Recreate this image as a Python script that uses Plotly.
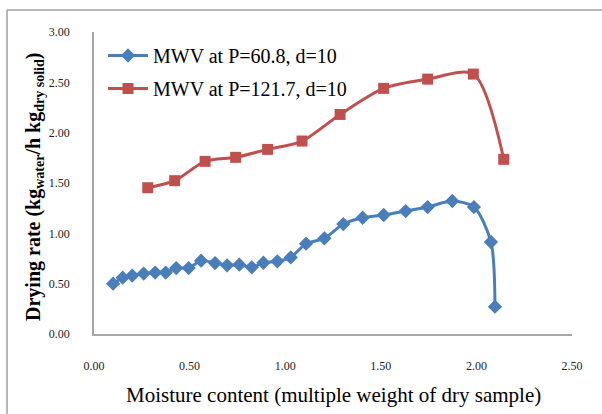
import plotly.graph_objects as go

# Data
blue_name = "MWV at P=60.8, d=10"
blue_x = [0.10, 0.15, 0.20, 0.26, 0.32, 0.375, 0.43, 0.495, 0.56, 0.633, 0.696, 0.76,
          0.825, 0.886, 0.959, 1.029, 1.109, 1.205, 1.304, 1.405, 1.515, 1.63, 1.745,
          1.874, 1.987, 2.076, 2.097]
blue_y = [0.50, 0.56, 0.58, 0.60, 0.61, 0.61, 0.655, 0.655, 0.728, 0.705, 0.682, 0.689,
          0.662, 0.708, 0.722, 0.761, 0.897, 0.95, 1.092, 1.155, 1.182, 1.221, 1.261,
          1.321, 1.261, 0.914, 0.271]

red_name = "MWV at P=121.7, d=10"
red_x = [0.281, 0.422, 0.581, 0.741, 0.908, 1.088, 1.287, 1.515, 1.745, 1.984, 2.143]
red_y = [1.453, 1.523, 1.715, 1.755, 1.834, 1.917, 2.181, 2.44, 2.532, 2.582, 1.735]

x_ticks = [0, 0.5, 1.0, 1.5, 2.0, 2.5]
y_ticks = [0, 0.5, 1.0, 1.5, 2.0, 2.5, 3.0]

x_title = "Moisture content (multiple weight of dry sample)"
y_title = "<b>Drying rate (kg<sub>water</sub>/h kg<sub>dry solid</sub>)</b>"

FONT = "Liberation Serif, Times New Roman, serif"

fig = go.Figure()
fig.add_trace(go.Scatter(
    x=blue_x, y=blue_y, name=blue_name, mode="lines+markers",
    line=dict(color="#4a7ebb", width=3, shape="spline", smoothing=0.8),
    marker=dict(symbol="diamond", size=11, color="#4a7ebb"),
    legendgroup="a",
))
fig.add_trace(go.Scatter(
    x=red_x, y=red_y, name=red_name, mode="lines+markers",
    line=dict(color="#c0504d", width=3, shape="spline", smoothing=0.8),
    marker=dict(symbol="square", size=11, color="#c0504d"),
    legendgroup="b",
))

L, R, T, B = 94, 30, 32, 80
W, H = 602, 414
pw, ph = W - L - R, H - T - B


def px_to_paper_x(px):
    return (px - L) / pw


def px_to_paper_y(py):
    return (H - B - py) / ph


fig.update_layout(
    width=W, height=H,
    margin=dict(l=L, r=R, t=T, b=B),
    paper_bgcolor="white", plot_bgcolor="white",
    font=dict(family=FONT, color="#000000"),
    showlegend=True,
    legend=dict(
        x=px_to_paper_x(103), y=px_to_paper_y(36), xanchor="left", yanchor="top",
        font=dict(family=FONT, size=20, color="#000"),
        bgcolor="rgba(0,0,0,0)", tracegroupgap=4, itemwidth=40,
    ),
    xaxis=dict(
        range=[0, 2.5], tickvals=x_ticks, tickformat=".2f",
        showgrid=False, zeroline=False, showline=True,
        linecolor="#a6a6a6", linewidth=1.5, ticks="",
        tickfont=dict(family=FONT, size=12, color="#222"),
        ticklabelstandoff=20,
    ),
    yaxis=dict(
        range=[0, 3], tickvals=y_ticks, tickformat=".2f",
        showgrid=False, zeroline=False, showline=True,
        linecolor="#a6a6a6", linewidth=1.5, ticks="",
        tickfont=dict(family=FONT, size=12, color="#222"),
        ticklabelstandoff=20,
    ),
)

# axis titles placed as annotations
fig.add_annotation(text=x_title, xref="paper", yref="paper",
                   x=px_to_paper_x(333), y=px_to_paper_y(395),
                   xanchor="center", yanchor="middle", showarrow=False,
                   font=dict(family=FONT, size=21, color="#000"))
fig.add_annotation(text=y_title, xref="paper", yref="paper",
                   x=px_to_paper_x(34), y=px_to_paper_y(187),
                   xanchor="center", yanchor="middle", showarrow=False,
                   textangle=-90,
                   font=dict(family=FONT, size=20, color="#000"))

# outer frame (top and left edges of chart area)
fig.add_shape(type="line", xref="paper", yref="paper",
              x0=px_to_paper_x(7), x1=px_to_paper_x(602),
              y0=px_to_paper_y(10), y1=px_to_paper_y(10),
              line=dict(color="#a0a0a0", width=1.5))
fig.add_shape(type="line", xref="paper", yref="paper",
              x0=px_to_paper_x(7), x1=px_to_paper_x(7),
              y0=px_to_paper_y(10), y1=px_to_paper_y(414),
              line=dict(color="#a0a0a0", width=1.5))

fig.write_html("out.html")
